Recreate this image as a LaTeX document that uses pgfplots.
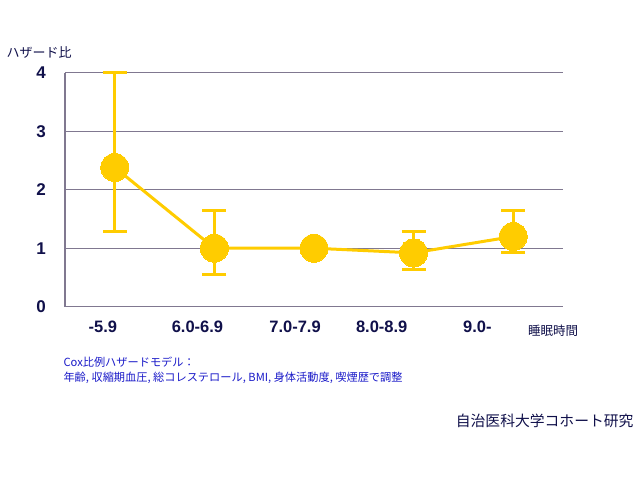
\documentclass[border=0pt]{standalone}
\usepackage{fontspec}
\setmainfont{Liberation Sans}
\newfontfamily\jp{Noto Sans CJK JP}
\usepackage{pgfplots}
\pgfplotsset{compat=1.18}
\definecolor{hy}{HTML}{FFCC00}
\definecolor{gridc}{HTML}{807890}
\definecolor{navy}{HTML}{10104A}
\definecolor{note}{HTML}{1A1AC8}

\pgfplotstableread{
x y ep em
1 2.38 1.62 1.10
2 1.00 0.64 0.45
3 1.00 0 0
4 0.92 0.36 0.28
5 1.20 0.44 0.28
}\hr

\begin{document}
\begin{tikzpicture}
\path[use as bounding box] (0,0) rectangle (640pt,480pt);
\begin{axis}[
    at={(65pt,173.3pt)}, anchor=south west,
    scale only axis, width=498pt, height=234pt,
    xmin=0.5, xmax=5.5, ymin=0, ymax=4,
    clip=false,
    /pgf/number format/assume math mode=true,
    axis x line*=bottom, axis y line*=left,
    axis line style={-, draw=gridc, line width=1.3pt},
    ymajorgrids, grid style={draw=gridc, line width=1.3pt},
    ytick={0,1,2,3,4}, ytick style={draw=none},
    yticklabel style={anchor=center, xshift=-24pt, font=\fontsize{17}{20}\selectfont\bfseries, text=navy},
    xtick={0.88,1.83,2.81,3.68,4.64},
    xticklabels={-5.9,6.0-6.9,7.0-7.9,8.0-8.9,9.0-},
    xtick style={draw=none},
    xticklabel style={anchor=center, yshift=-20pt, font=\fontsize{16.5}{20}\selectfont\bfseries, text=navy},
    extra x ticks={0.5,1.5,2.5,3.5,4.5,5.5}, extra x tick labels={},
    extra x tick style={major tick length=5pt, tick align=outside,
        tick style={draw=gridc, line width=1pt}, grid=none},
]
\addplot[hy, line width=3pt, mark=*, mark size=14pt,
    mark options={fill=hy, draw=hy, line width=0pt},
    error bars/.cd, y dir=both, y explicit,
    error bar style={hy, line width=3pt},
    error mark options={rotate=90, mark size=12pt, line width=3pt, hy}]
    table[x=x, y=y, y error plus=ep, y error minus=em]{\hr};
\end{axis}
\node[anchor=west, font=\jp\fontsize{13}{15}\selectfont, text=navy] at (3pt,428pt) {ハザード比};
\node[anchor=center, font=\jp\fontsize{12.5}{14}\selectfont, text=navy] at (553pt,149pt) {睡眠時間};
\node[anchor=west, font=\jp\fontsize{11.2}{14}\selectfont, text=note] at (60pt,118pt) {Cox比例ハザードモデル：};
\node[anchor=west, font=\jp\fontsize{11.2}{14}\selectfont, text=note] at (60pt,102pt) {年齢, 収縮期血圧, 総コレステロール, BMI, 身体活動度, 喫煙歴で調整};
\node[anchor=east, font=\jp\fontsize{14.8}{16}\selectfont, text=navy] at (637pt,59pt) {自治医科大学コホート研究};
\end{tikzpicture}
\end{document}
